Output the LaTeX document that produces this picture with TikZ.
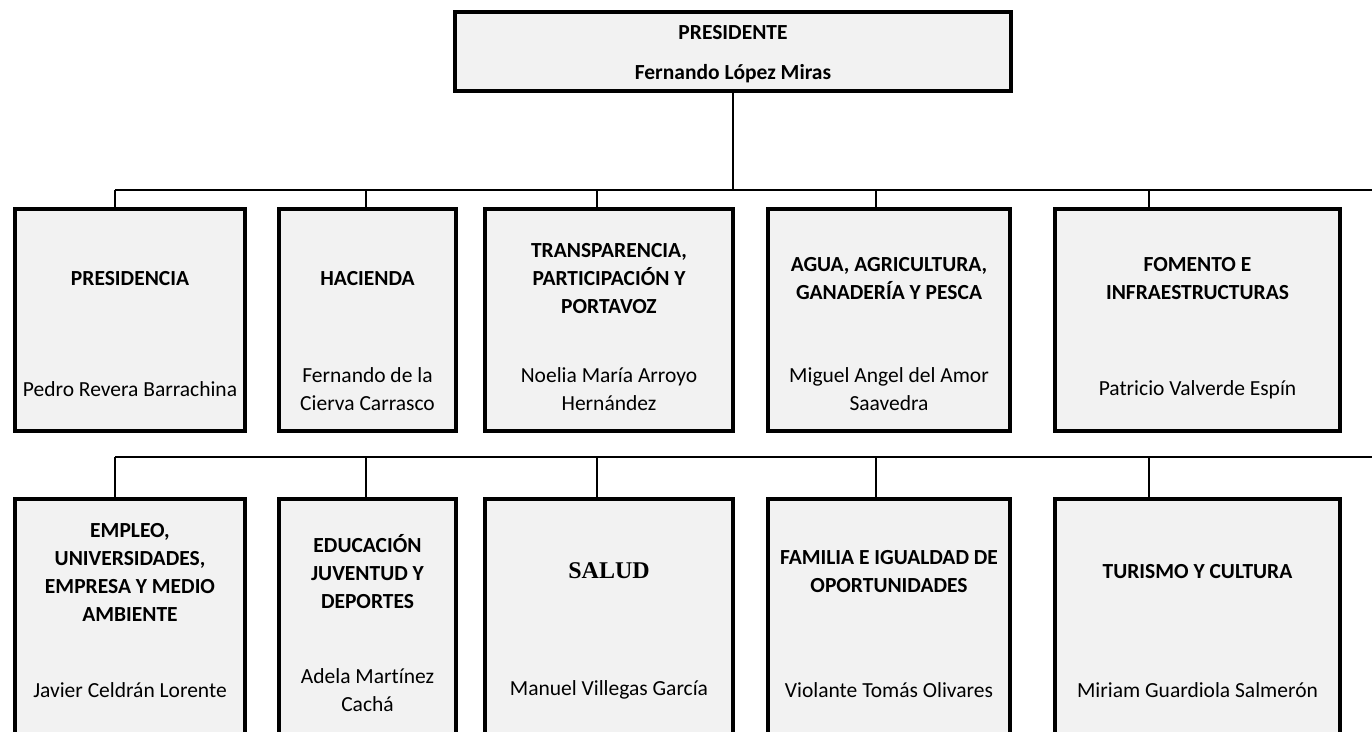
\documentclass[tikz,border=0pt]{standalone}
\usepackage{fontspec}
\setmainfont{Carlito}[Ligatures=NoCommon]
\newfontfamily\timesfont{Liberation Serif}
\usetikzlibrary{calc}
\definecolor{boxgrey}{HTML}{F2F2F2}

\tikzset{
  dept/.style={draw=black, line width=4pt, fill=boxgrey, inner sep=0pt},
  head/.style={font=\fontsize{21.5}{28}\selectfont\bfseries, align=center, inner sep=0pt},
  who/.style={font=\fontsize{21.5}{28}\selectfont, align=center, inner sep=0pt},
  link/.style={line width=1.6pt, draw=black}
}

\begin{document}
\begin{tikzpicture}[x=1pt,y=-1pt]
  \useasboundingbox (0,0) rectangle (1372,731);
  \coordinate (row1head) at (0,279);
  \coordinate (row1who) at (0,389.5);
  \coordinate (row2head) at (0,572);
  \coordinate (row2who) at (0,690);
  \coordinate (bus1w) at (115,190);
  \coordinate (bus1e) at (1374,190);
  \coordinate (bus2w) at (115,457);
  \coordinate (bus2e) at (1374,457);

  % president
  \node[dept, minimum width=556pt, minimum height=79pt] (pres) at (733,51.5) {};
  \node[head] (prestxt) at (733,54.6) {PRESIDENTE\\[12pt]Fernando López Miras};

  % first row
  \node[dept, minimum width=230pt, minimum height=222pt] (presid) at (130,320) {};
  \node[dept, minimum width=177pt, minimum height=222pt] (hacienda) at (367.5,320) {};
  \node[dept, minimum width=248pt, minimum height=222pt] (transp) at (609,320) {};
  \node[dept, minimum width=242pt, minimum height=222pt] (agua) at (889,320) {};
  \node[dept, minimum width=285pt, minimum height=222pt] (fomento) at (1197.5,320) {};

  \node[head] (presidhead) at (presid |- row1head) {PRESIDENCIA};
  \node[who] (presidwho) at (presid |- row1who) {Pedro Revera Barrachina};
  \node[head] (haciendahead) at (hacienda |- row1head) {HACIENDA};
  \node[who] (haciendawho) at (hacienda |- row1who) {Fernando de la\\Cierva Carrasco};
  \node[head] (transphead) at (transp |- row1head) {TRANSPARENCIA,\\PARTICIPACIÓN Y\\PORTAVOZ};
  \node[who] (transpwho) at (transp |- row1who) {Noelia María Arroyo\\Hernández};
  \node[head] (aguahead) at (agua |- row1head) {AGUA, AGRICULTURA,\\GANADERÍA Y PESCA};
  \node[who] (aguawho) at (agua |- row1who) {Miguel Angel del Amor\\Saavedra};
  \node[head] (fomentohead) at (fomento |- row1head) {FOMENTO E\\INFRAESTRUCTURAS};
  \node[who] (fomentowho) at (fomento |- row1who) {Patricio Valverde Espín};

  % second row
  \node[dept, minimum width=230pt, minimum height=238pt] (empleo) at (130,618) {};
  \node[dept, minimum width=177pt, minimum height=238pt] (educ) at (367.5,618) {};
  \node[dept, minimum width=248pt, minimum height=238pt] (salud) at (609,618) {};
  \node[dept, minimum width=242pt, minimum height=238pt] (familia) at (889,618) {};
  \node[dept, minimum width=285pt, minimum height=238pt] (turismo) at (1197.5,618) {};

  \node[head] (empleohead) at (empleo |- row2head) {EMPLEO,\\UNIVERSIDADES,\\EMPRESA Y MEDIO\\AMBIENTE};
  \node[who] (empleowho) at (empleo |- row2who) {Javier Celdrán Lorente};
  \node[head] (educhead) at (educ |- row2head) {EDUCACIÓN\\JUVENTUD Y\\DEPORTES};
  \node[who] (educwho) at (educ |- row2who) {Adela Martínez\\Cachá};
  \node[head, font=\timesfont\bfseries\fontsize{24}{28}\selectfont] (saludhead) at ($(salud |- row2head)+(0,-1)$) {SALUD};
  \node[who] (saludwho) at (salud |- row2who) {Manuel Villegas García};
  \node[head] (familiahead) at (familia |- row2head) {FAMILIA E IGUALDAD DE\\OPORTUNIDADES};
  \node[who] (familiawho) at (familia |- row2who) {Violante Tomás Olivares};
  \node[head] (turismohead) at (turismo |- row2head) {TURISMO Y CULTURA};
  \node[who] (turismowho) at (turismo |- row2who) {Miriam Guardiola Salmerón};

  % connectors
  \draw[link] (pres.south) -- (pres.south |- bus1w);
  \draw[link] (bus1w) -- (bus1e);
  \draw[link] (bus2w) -- (bus2e);
  \foreach \b/\dx in {presid/115, hacienda/366, transp/597, agua/876, fomento/1149}
    \draw[link] (\dx,0 |- bus1w) -- (\dx,0 |- \b.north);
  \foreach \b/\dx in {empleo/115, educ/366, salud/597, familia/876, turismo/1149}
    \draw[link] (\dx,0 |- bus2w) -- (\dx,0 |- \b.north);
\end{tikzpicture}
\end{document}
